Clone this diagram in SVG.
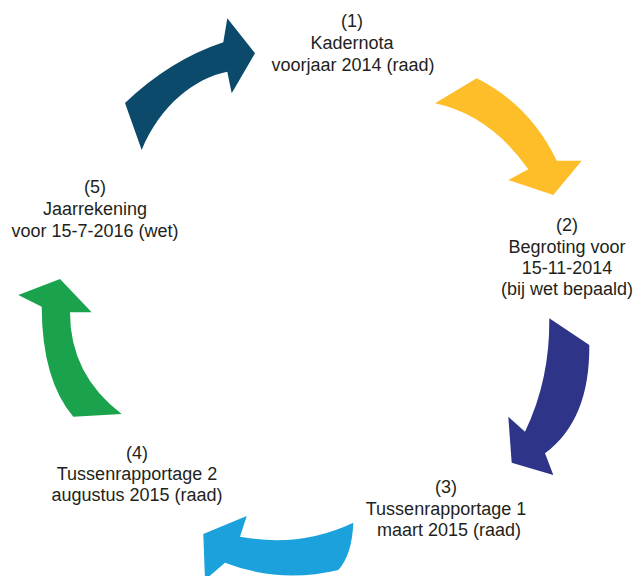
<svg xmlns="http://www.w3.org/2000/svg" width="640" height="576" viewBox="0 0 640 576">
<style>
text{font-family:"Liberation Sans",Arial,sans-serif;font-size:18px;fill:#231f20;text-anchor:middle}
</style>
<rect width="640" height="576" fill="#ffffff"/>
<g id="connectors">
<path id="arrow1" fill="#0b4a6b" d="M125,103 Q170,60 223.3,42.3 L227.3,18.3 L255,53.3 L231.7,93.3 L227.3,71.7 C195,78 160,105 141.7,150 Z"/>
<path id="arrow2" fill="#fdbe2a" d="M476.7,78.3 Q530,105 556.7,160.7 L581.7,160.7 L553.3,195 L508.3,180 L528.3,169.3 Q490,115 435,103.3 Z"/>
<path id="arrow3" fill="#2e3488" d="M549.3,318.3 L589.3,345 Q590,420 545,453.3 L553.3,475 L511.7,462.7 L508.3,416.7 L525,431.7 Q550,380 549.3,318.3 Z"/>
<path id="arrow4" fill="#1ba1db" d="M353.3,522.7 Q352,555 338.3,570 Q280,584 225,562.7 L205,580 L203.3,534 L246.7,516 L240,536.7 Q300,548 353.3,522.7 Z"/>
<path id="arrow5" fill="#1ba24c" d="M73.3,416.7 L121.7,414 Q70,375 70,312.3 L91.7,312.3 L60,279 L18.3,295 L41.7,306.7 Q42,380 73.3,416.7 Z"/>
</g>
<g id="node1">
<text x="352" y="27">(1)</text>
<text x="352" y="49">Kadernota</text>
<text x="353" y="71">voorjaar 2014 (raad)</text>
</g>
<g id="node2">
<text x="567" y="231">(2)</text>
<text x="567" y="253">Begroting voor</text>
<text x="567" y="274">15-11-2014</text>
<text x="567" y="295">(bij wet bepaald)</text>
</g>
<g id="node3">
<text x="446" y="493">(3)</text>
<text x="446" y="515">Tussenrapportage 1</text>
<text x="449" y="536">maart 2015 (raad)</text>
</g>
<g id="node4">
<text x="137" y="459">(4)</text>
<text x="137" y="480">Tussenrapportage 2</text>
<text x="137" y="501">augustus 2015 (raad)</text>
</g>
<g id="node5">
<text x="95" y="193">(5)</text>
<text x="95" y="215">Jaarrekening</text>
<text x="95" y="237">voor 15-7-2016 (wet)</text>
</g>
</svg>
